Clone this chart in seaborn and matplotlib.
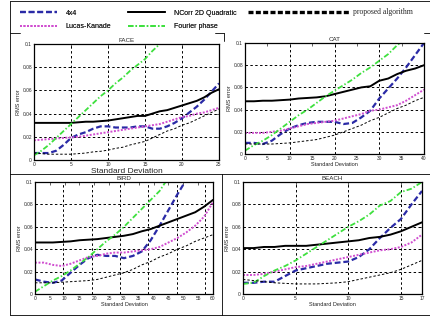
import numpy as np
import pandas as pd
import seaborn as sns
import matplotlib.pyplot as plt
from matplotlib.lines import Line2D

nan = np.nan

methods = ["4x4", "Lucas-Kanade", "NCorr 2D Quadratic", "Fourier phase", "proposed algorithm"]

# FACE panel, std dev 0..25
face_sd = list(range(0, 26))
face_4x4 = [0.006, 0.006, 0.006, 0.008, 0.013, 0.019, 0.022, 0.024, 0.027, 0.029, 0.029, 0.028, 0.028,
            0.028, 0.029, 0.029, 0.027, 0.027, 0.029, 0.032, 0.036, 0.041, 0.046, 0.052, 0.059, 0.066]
face_lk = [0.017, 0.0175, 0.018, 0.0185, 0.019, 0.0195, 0.020, 0.021, 0.022, 0.023, 0.024, 0.025, 0.026,
           0.027, 0.028, 0.029, 0.030, 0.031, 0.033, 0.035, 0.037, 0.038, 0.040, 0.041, 0.043, 0.045]
face_ncorr = [0.032, 0.032, 0.032, 0.032, 0.032, 0.032, 0.0325, 0.033, 0.033, 0.0335, 0.034, 0.035, 0.036,
              0.037, 0.038, 0.038, 0.040, 0.042, 0.043, 0.045, 0.047, 0.049, 0.051, 0.054, 0.058, 0.061]
face_fourier = [0.004, 0.008, 0.013, 0.019, 0.025, 0.031, 0.037, 0.043, 0.049, 0.055, 0.060, 0.066, 0.071,
                0.077, 0.082, 0.087, 0.094, 0.100, nan, nan, nan, nan, nan, nan, nan, nan]
face_prop = [0.006, 0.0055, 0.005, 0.005, 0.005, 0.005, 0.0055, 0.006, 0.007, 0.0075, 0.0085, 0.010, 0.011,
             0.013, 0.0145, 0.016, 0.019, 0.022, 0.025, 0.027, 0.030, 0.032, 0.035, 0.038, 0.041, 0.044]

# CAT panel, std dev 0..40
cat_sd = list(range(0, 41, 2))
cat_4x4 = [0.010, 0.010, 0.009, 0.012, 0.018, 0.023, 0.026, 0.028, 0.029, 0.029, 0.029,
           0.027, 0.028, 0.033, 0.039, 0.050, 0.059, 0.068, 0.078, 0.089, 0.100]
cat_lk = [0.019, 0.019, 0.019, 0.020, 0.021, 0.023, 0.025, 0.027, 0.028, 0.029, 0.030,
          0.032, 0.034, 0.036, 0.039, 0.040, 0.042, 0.044, 0.048, 0.053, 0.058]
cat_ncorr = [0.0475, 0.0475, 0.048, 0.048, 0.0485, 0.049, 0.050, 0.0505, 0.051, 0.052, 0.054,
             0.056, 0.058, 0.060, 0.061, 0.066, 0.068, 0.072, 0.075, 0.077, 0.080]
cat_fourier = [0.003, 0.008, 0.012, 0.017, 0.023, 0.029, 0.035, 0.040, 0.046, 0.052, 0.057,
               0.062, 0.067, 0.073, 0.078, 0.084, 0.090, 0.098, 0.104, nan, nan]
cat_prop = [0.009, 0.009, 0.009, 0.009, 0.0095, 0.010, 0.011, 0.012, 0.013, 0.015, 0.017,
            0.020, 0.023, 0.026, 0.030, 0.033, 0.037, 0.041, 0.044, 0.048, 0.051]

# BIRD panel, std dev 0..60
bird_sd = list(range(0, 61, 3))
bird_4x4 = [0.013, 0.011, 0.010, 0.012, 0.019, 0.026, 0.032, 0.035, 0.034, 0.034, 0.032,
            0.034, 0.038, 0.048, 0.061, 0.075, 0.089, 0.102, nan, nan, nan]
bird_lk = [0.028, 0.028, 0.026, 0.025, 0.027, 0.030, 0.033, 0.034, 0.036, 0.037, 0.037,
           0.038, 0.039, 0.040, 0.042, 0.046, 0.050, 0.055, 0.061, 0.069, 0.082]
bird_ncorr = [0.046, 0.046, 0.046, 0.0465, 0.047, 0.048, 0.0485, 0.049, 0.050, 0.051, 0.052,
              0.0535, 0.056, 0.058, 0.061, 0.064, 0.067, 0.070, 0.073, 0.078, 0.084]
bird_fourier = [0.002, 0.007, 0.012, 0.016, 0.021, 0.027, 0.033, 0.040, 0.047, 0.053, 0.060,
                0.068, 0.076, 0.084, 0.092, 0.104, nan, nan, nan, nan, nan]
bird_prop = [0.010, 0.010, 0.010, 0.0105, 0.011, 0.0115, 0.012, 0.013, 0.015, 0.017, 0.019,
             0.022, 0.026, 0.029, 0.033, 0.036, 0.040, 0.043, 0.047, 0.050, 0.053]

# BEACH panel, std dev 0..17
beach_sd = list(range(0, 18))
beach_4x4 = [0.010, 0.010, 0.011, 0.011, 0.016, 0.021, 0.023, 0.025, 0.027, 0.028, 0.029,
             0.033, 0.040, 0.050, 0.059, 0.067, 0.080, 0.092]
beach_lk = [0.017, 0.017, 0.018, 0.020, 0.022, 0.024, 0.025, 0.027, 0.029, 0.031, 0.033,
            0.035, 0.037, 0.039, 0.040, 0.042, 0.046, 0.053]
beach_ncorr = [0.041, 0.041, 0.042, 0.042, 0.043, 0.043, 0.043, 0.044, 0.045, 0.046, 0.047,
               0.048, 0.050, 0.051, 0.053, 0.056, 0.060, 0.064]
beach_fourier = [0.009, 0.010, 0.016, 0.021, 0.025, 0.030, 0.036, 0.042, 0.048, 0.054, 0.060,
                 0.065, 0.071, 0.079, 0.083, 0.091, 0.094, 0.100]
beach_prop = [0.013, 0.012, 0.011, 0.010, 0.0095, 0.009, 0.009, 0.009, 0.0095, 0.010, 0.011,
              0.013, 0.015, 0.017, 0.019, 0.022, 0.026, 0.030]

y_ticks = [0, 0.02, 0.04, 0.06, 0.08, 0.1]
y_labels = ["0", "0.02", "0.04", "0.06", "0.08", "0.1"]

palette = {"4x4": "#2a2aa6", "Lucas-Kanade": "#d04ed0", "NCorr 2D Quadratic": "black",
           "Fourier phase": "#3ee03e", "proposed algorithm": "black"}
dashes = {"4x4": (2.6, 1.3), "Lucas-Kanade": (1, 0.8), "NCorr 2D Quadratic": "",
          "Fourier phase": (3, 1.2, 0.8, 1.2), "proposed algorithm": (2.5, 2)}
sizes = {"4x4": 1.6, "Lucas-Kanade": 1.4, "NCorr 2D Quadratic": 1.4,
         "Fourier phase": 1.3, "proposed algorithm": 0.7}

sns.set_style("white")
plt.rcParams["font.family"] = ["Liberation Sans", "DejaVu Sans"]

W, H = 431, 316
fig = plt.figure(figsize=(W / 100, H / 100), dpi=100)


def px(x, y):
    return x / W, 1 - y / H


def make_df(sd, curves):
    rows = []
    for m, vals in zip(methods, curves):
        rows.append(pd.DataFrame({"sd": sd, "rms": vals, "method": m}))
    return pd.concat(rows).dropna()


def panel(box, title, sd, curves, xticks, xlabels, xmax, grid_x, xl_size):
    l, t, r, b = box
    x0, y0 = px(l, b)
    x1, y1 = px(r, t)
    ax = fig.add_axes([x0, y0, x1 - x0, y1 - y0])
    df = make_df(sd, curves)
    sns.lineplot(data=df, x="sd", y="rms", hue="method", style="method", size="method",
                 palette=palette, dashes=dashes, sizes=sizes, hue_order=methods,
                 style_order=methods, size_order=methods, legend=False, ax=ax)
    ax.xaxis.remove_overlapping_locs = False
    ax.yaxis.remove_overlapping_locs = False
    ax.set_xlim(0, xmax)
    ax.set_ylim(0, 0.1)
    ax.set_xticks(xticks)
    ax.set_xticklabels(xlabels)
    ax.set_yticks(y_ticks)
    ax.set_yticklabels(y_labels)
    ax.set_xticks(grid_x, minor=True)
    ax.set_yticks([0.02, 0.04, 0.06, 0.08], minor=True)
    ax.grid(which="minor", color="black", linestyle=(0, (2.5, 2.5)), linewidth=0.7)
    ax.grid(which="major", visible=False)
    ax.tick_params(which="minor", length=0)
    ax.tick_params(which="major", direction="in", length=2, width=0.5, labelsize=3.5,
                   pad=1.5, top=True, right=True)
    for s in ax.spines.values():
        s.set_linewidth(0.9)
        s.set_color("black")
    ax.set_title(title, fontsize=4.5, pad=1.5)
    ax.set_xlabel("Standard Deviation", fontsize=xl_size, labelpad=0.5)
    ax.set_ylabel("RMS error", fontsize=4, labelpad=1)
    return ax


panel((34, 44, 219, 160), "FACE", face_sd,
      [face_4x4, face_lk, face_ncorr, face_fourier, face_prop],
      [0, 5, 10, 15, 20, 25], ["0", "5", "10", "15", "20", "25"], 25, [5, 10, 15, 20], 6)
panel((245, 43, 424, 154), "CAT", cat_sd,
      [cat_4x4, cat_lk, cat_ncorr, cat_fourier, cat_prop],
      list(range(0, 41, 5)), [str(v) for v in range(0, 41, 5)], 40, [10, 20, 30], 4)
panel((35, 182, 213, 294), "BIRD", bird_sd,
      [bird_4x4, bird_lk, bird_ncorr, bird_fourier, bird_prop],
      list(range(0, 61, 5)), [str(v) for v in range(0, 61, 5)], 60,
      [9.6, 19.1, 28.6, 38.2, 47.7, 57.2], 4)
panel((243, 182, 422, 294), "BEACH", beach_sd,
      [beach_4x4, beach_lk, beach_ncorr, beach_fourier, beach_prop],
      [0, 5, 10, 15, 17], ["0", "5", "10", "15", "17"], 17, [5, 10, 15], 4)

# legend
handles = [Line2D([], [], color=palette[m], linewidth=sizes[m],
                  dashes=dashes[m] if dashes[m] else (None, None)) for m in methods[:4]]
handles[2].set_linestyle("-")
leg1 = fig.legend(handles, methods[:4], ncol=2,
                  loc="upper left", bbox_to_anchor=px(10, 0), frameon=False, fontsize=5,
                  handlelength=5.3, handletextpad=1.3, columnspacing=2.4, labelspacing=0.9,
                  borderpad=0.9)
prop_handle = Line2D([], [], color="black", linewidth=2.4, dashes=(1.5, 0.7))
leg2 = fig.legend([prop_handle], [methods[4]], loc="upper left", bbox_to_anchor=px(240, 0),
                  frameon=False, handlelength=13.3, handletextpad=0.4, borderpad=0.6,
                  prop={"family": "Liberation Serif", "size": 5.5})
fig.add_artist(leg1)

# frame lines of the figure
frame = [((10.5, 0.5), (430, 0.5)), ((10.5, 0.5), (10.5, 315)), ((10.5, 315), (430, 315)),
         ((430, 0.5), (430, 315)), ((10.5, 174), (430, 174)), ((222, 174), (222, 315)),
         ((10.5, 33), (20, 33)), ((215, 33), (224, 33)), ((224, 33), (224, 41)),
         ((424, 33), (430, 33))]
for (xa, ya), (xb, yb) in frame:
    p0, p1 = px(xa, ya), px(xb, yb)
    fig.add_artist(Line2D([p0[0], p1[0]], [p0[1], p1[1]], transform=fig.transFigure,
                          color="black", linewidth=0.6))

fig.savefig("out.png", dpi=100, facecolor="white")
